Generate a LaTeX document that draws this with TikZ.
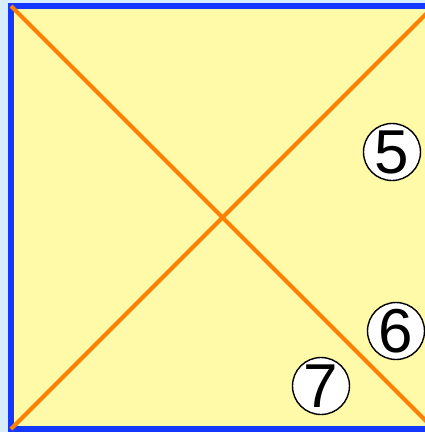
\documentclass[tikz,border=0pt]{standalone}
\usepackage{fontspec}
\setmainfont{Liberation Sans}
\definecolor{skyback}{HTML}{D8EEFF}
\definecolor{frameblue}{HTML}{1438FF}
\definecolor{paleyellow}{HTML}{FFFAA8}
\definecolor{diagorange}{HTML}{FF8000}

\begin{document}
\begin{tikzpicture}[x=1pt, y=-1pt,
  frame/.style={draw=frameblue, line width=6pt, fill=paleyellow},
  diag/.style={draw=diagorange, line width=4pt},
  num/.style={circle, draw=black, line width=1.4pt, fill=white, inner sep=0pt,
    minimum size=57pt, font=\fontsize{62}{62}\selectfont}]
\useasboundingbox (0,0) rectangle (425,432);
\clip (0,0) rectangle (425,432);
\fill[skyback] (0,0) rectangle (425,432);
% ---------------- square and its diagonals
\coordinate (tl) at (11,6);
\coordinate (br) at (434,429);
\coordinate (bl) at (11,429);
\coordinate (tr) at (434,6);
\draw[frame] (tl) rectangle (br);
\draw[diag] (tl) -- (br);
\draw[diag] (bl) -- (tr);
% ---------------- numbered marks
\node[num] (m5) at (392,152) {5};
\node[num] (m6) at (396,331) {6};
\node[num] (m7) at (321,386) {7};
\end{tikzpicture}
\end{document}
